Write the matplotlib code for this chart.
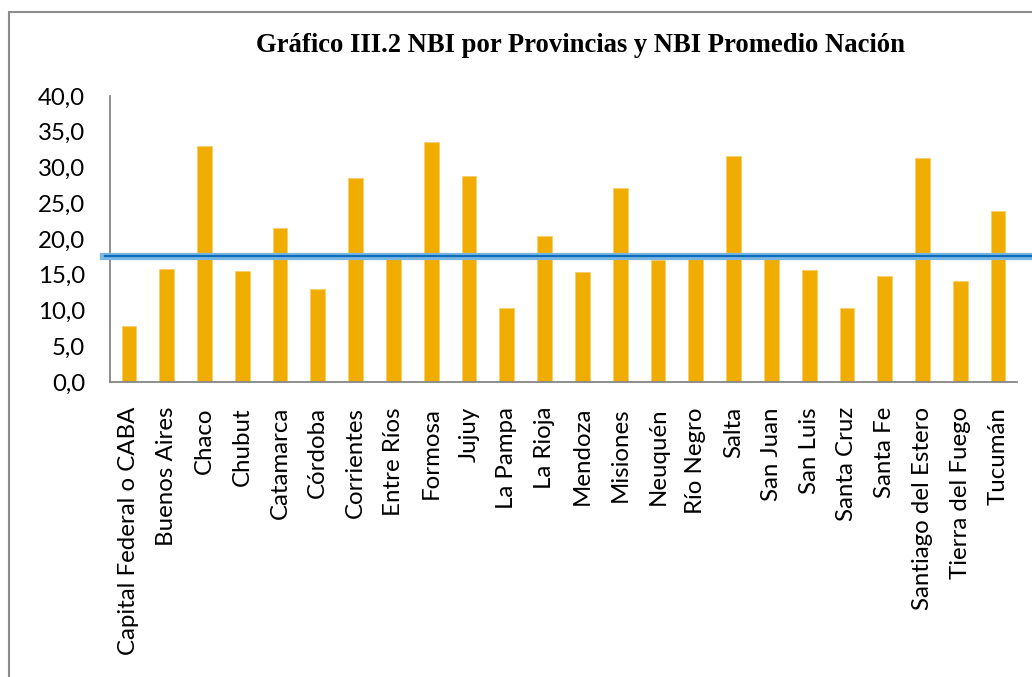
import matplotlib.pyplot as plt
from matplotlib.patches import Rectangle

# datos: NBI por provincia (%)
provincias = ["Capital Federal o CABA", "Buenos Aires", "Chaco", "Chubut", "Catamarca",
              "Córdoba", "Corrientes", "Entre Ríos", "Formosa", "Jujuy", "La Pampa",
              "La Rioja", "Mendoza", "Misiones", "Neuquén", "Río Negro", "Salta",
              "San Juan", "San Luis", "Santa Cruz", "Santa Fe", "Santiago del Estero",
              "Tierra del Fuego", "Tucumán"]
nbi = [7.8, 15.8, 33.0, 15.5, 21.5, 13.0, 28.5, 17.6, 33.6, 28.8, 10.3, 20.4, 15.4,
       27.1, 17.0, 17.9, 31.6, 17.4, 15.6, 10.4, 14.8, 31.3, 14.1, 23.9]
nbi_nacion = 17.6
y_ticks = [0, 5, 10, 15, 20, 25, 30, 35, 40]

fig = plt.figure(figsize=(10.32, 6.77), dpi=100)
ax = fig.add_axes([110 / 1032, 1 - 382 / 677, 907 / 1032, 286 / 677])

x = list(range(len(provincias)))
ax.bar(x, nbi, width=0.39, color="#F0AC00", edgecolor="#F7CF6A", linewidth=0.6, zorder=2)

# linea promedio nacion
ax.axhline(nbi_nacion, xmin=-0.008, xmax=1.03, color="#79B6E2", lw=5.2, clip_on=False, zorder=3)
ax.axhline(nbi_nacion, xmin=-0.006, xmax=1.03, color="#0B6DBB", lw=1.6, clip_on=False, zorder=4)

ax.set_xlim(-0.5, len(provincias) - 0.5)
ax.set_ylim(0, 40)
ax.set_yticks(y_ticks)
ax.set_yticklabels([f"{v:.1f}".replace(".", ",") for v in y_ticks],
                   fontsize=17.3, family="Lato")
ax.set_xticks(x)
ax.set_xticklabels(provincias, rotation=90, fontsize=17.3, family="Lato", va="top")
ax.tick_params(axis="both", length=0)
ax.tick_params(axis="y", pad=18)
ax.tick_params(axis="x", pad=18)

for s in ["top", "right"]:
    ax.spines[s].set_visible(False)
for s in ["left", "bottom"]:
    ax.spines[s].set_color("#868686")
    ax.spines[s].set_linewidth(1.3)

fig.text(581 / 1032, 1 - 45 / 677, "Gráfico III.2 NBI por Provincias y NBI Promedio Nación",
         ha="center", va="center", fontsize=19.2, fontweight="bold", family="Liberation Serif")

# marco
fig.add_artist(Rectangle((9 / 1032, -0.2), 1.2, 1.2 + (1 - 12.5 / 677) - 1, transform=fig.transFigure,
                         fill=False, edgecolor="#8C8C8C", linewidth=1.5))

fig.savefig("out.png", dpi=100)
